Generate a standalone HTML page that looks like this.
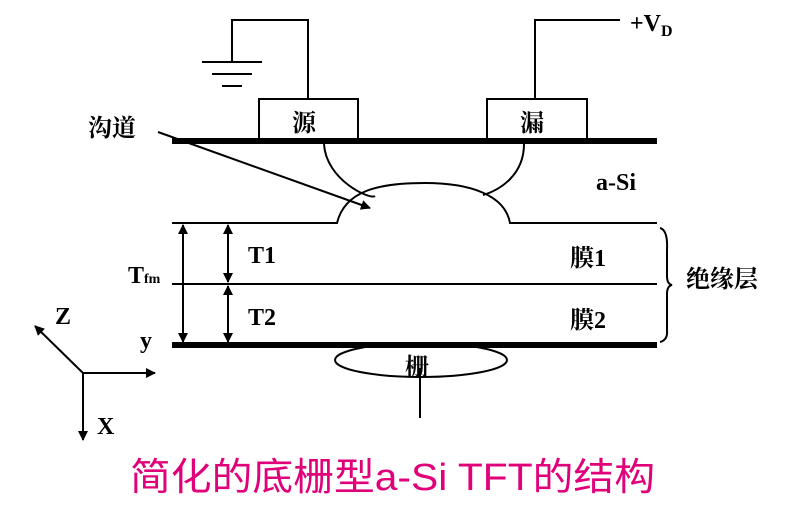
<!DOCTYPE html>
<html><head><meta charset="utf-8"><style>
body{margin:0;background:#fff}
svg text{font-family:"Liberation Serif","Noto Serif CJK SC",serif;font-weight:bold;fill:#000}
</style></head><body>
<svg width="786" height="508" viewBox="0 0 786 508" xmlns="http://www.w3.org/2000/svg">
<defs><marker id="a" markerWidth="10" markerHeight="10" refX="9" refY="5" orient="auto" markerUnits="userSpaceOnUse"><path d="M0,0 L10,5 L0,10z" fill="#000"/></marker></defs>
<g stroke="#000" fill="none" stroke-width="2">
<polyline points="308,99 308,20 232,20 232,62"/>
<line x1="202" y1="62" x2="262" y2="62"/><line x1="212" y1="74" x2="252" y2="74"/><line x1="222" y1="86" x2="242" y2="86"/>
<polyline points="535,99 535,20 620,20"/>
<rect x="259" y="99" width="99" height="41"/>
<rect x="487" y="99" width="100" height="41"/>
<line x1="172" y1="141" x2="657" y2="141" stroke-width="6"/>
<path d="M324,144 C326,180 370,200 375,196"/>
<path d="M524,144 C524,175 500,190 483,195"/>
<path d="M172,223 L337,223 C345,190 380,183 425,183 C470,183 505,195 510,223 L657,223"/>
<line x1="172" y1="284" x2="657" y2="284"/>
<line x1="172" y1="345" x2="657" y2="345" stroke-width="6"/>
<ellipse cx="421" cy="360" rx="86" ry="17"/>
<line x1="420" y1="368" x2="420" y2="418"/>
<line x1="158" y1="132" x2="370" y2="208" marker-end="url(#a)"/>
<line x1="183" y1="282" x2="183" y2="225" marker-end="url(#a)"/><line x1="183" y1="282" x2="183" y2="342" marker-end="url(#a)"/>
<line x1="228" y1="254" x2="228" y2="225" marker-end="url(#a)"/><line x1="228" y1="254" x2="228" y2="282" marker-end="url(#a)"/>
<line x1="228" y1="314" x2="228" y2="286" marker-end="url(#a)"/><line x1="228" y1="314" x2="228" y2="342" marker-end="url(#a)"/>
<path d="M660,228 Q668,230 667,250 L667,276 Q667,284 672,285 Q667,286 667,294 L667,330 Q668,340 660,342"/>
<line x1="83" y1="373" x2="155" y2="373" marker-end="url(#a)"/>
<line x1="83" y1="373" x2="83" y2="440" marker-end="url(#a)"/>
<line x1="83" y1="373" x2="35" y2="326" marker-end="url(#a)"/>
</g>
<g font-size="24">
<text x="292" y="131">源</text><text x="520" y="131">漏</text>
<text x="88" y="136">沟道</text>
<text x="596" y="190">a-Si</text>
<text x="248" y="263">T1</text><text x="248" y="325">T2</text>
<text x="570" y="266">膜1</text><text x="570" y="328">膜2</text>
<text x="686" y="287">绝缘层</text>
<text x="128" y="283">T<tspan font-size="14">fm</tspan></text>
<text x="55" y="324">Z</text><text x="140" y="348">y</text><text x="97" y="434">X</text>
<text x="405" y="375">栅</text>
<text x="630" y="31">+V<tspan font-size="16" dy="5">D</tspan></text>
</g>
<text x="130" y="490" textLength="525" lengthAdjust="spacingAndGlyphs" style="font-family:'Liberation Sans','Noto Sans CJK SC',sans-serif;font-weight:normal;fill:#e0007a" font-size="38">简化的底栅型a-Si TFT的结构</text>
</svg>
</body></html>
